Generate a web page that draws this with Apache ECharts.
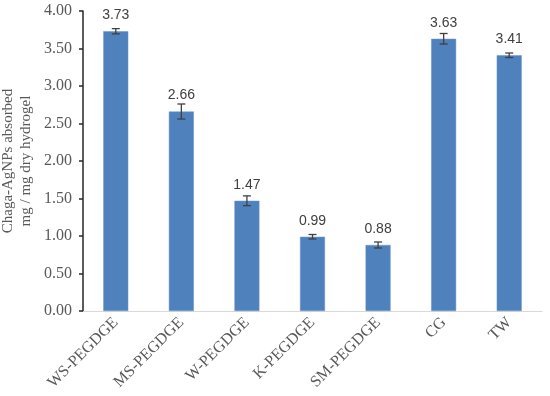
<!DOCTYPE html>
<html><head><meta charset="utf-8">
<script src="https://cdn.jsdelivr.net/npm/echarts@6/dist/echarts.min.js"></script>
<style>html,body{margin:0;padding:0;background:#fff}#c{width:550px;height:396px}</style>
</head><body><div id="c"></div>
<script>
var categories = ['WS-PEGDGE','MS-PEGDGE','W-PEGDGE','K-PEGDGE','SM-PEGDGE','CG','TW'];
var values = [3.73, 2.66, 1.47, 0.99, 0.88, 3.63, 3.41];
var errors = [0.035, 0.10, 0.065, 0.03, 0.04, 0.07, 0.03];
var yTicks = [0, 0.5, 1, 1.5, 2, 2.5, 3, 3.5, 4];

var chart = echarts.init(document.getElementById('c'));
var errData = values.map(function(v,i){ return [i, v - errors[i], v + errors[i]]; });
chart.setOption({
  animation: false,
  grid: {left: 83, right: 8, top: 11, bottom: 85, containLabel: false, outerBoundsMode: 'none'},
  xAxis: {
    type: 'category', data: categories,
    axisLine: {lineStyle: {color: '#d9d9d9', width: 1}},
    axisTick: {show: false},
    axisLabel: {rotate: 45, interval: 0, fontFamily: 'Liberation Serif', fontSize: 16, color: '#595959', margin: 9}
  },
  yAxis: {
    type: 'value', min: yTicks[0], max: yTicks[yTicks.length-1], interval: 0.5,
    name: 'Chaga-AgNPs absorbed\nmg / mg dry hydrogel',
    nameLocation: 'middle', nameGap: 48, nameMoveOverlap: false,
    nameTextStyle: {fontFamily: 'Liberation Serif', fontSize: 15, color: '#595959', lineHeight: 18},
    axisLine: {show: true, lineStyle: {color: '#262626', width: 1.5}},
    axisTick: {show: true, length: 4, lineStyle: {color: '#262626', width: 1.5}},
    splitLine: {show: false},
    axisLabel: {fontFamily: 'Liberation Serif', fontSize: 16, color: '#595959', margin: 11,
      formatter: function(v){ return v.toFixed(2); }}
  },
  series: [{
    type: 'bar', data: values, barWidth: 25,
    itemStyle: {color: '#4f81bd', borderColor: '#6c96c9', borderWidth: 0.5},
    label: {show: true, position: 'top', distance: 9, fontFamily: 'Liberation Sans', fontSize: 14, color: '#404040',
      formatter: function(p){ return p.value.toFixed(2); }},
    z: 2
  }, {
    type: 'custom', data: errData, z: 3,
    renderItem: function(params, api){
      var x = api.value(0);
      var lo = api.coord([x, api.value(1)]);
      var hi = api.coord([x, api.value(2)]);
      var hw = 4;
      var st = {stroke: '#404040', lineWidth: 1.3};
      return {type: 'group', children: [
        {type: 'line', shape: {x1: lo[0], y1: lo[1], x2: hi[0], y2: hi[1]}, style: st},
        {type: 'line', shape: {x1: lo[0]-hw, y1: lo[1], x2: lo[0]+hw, y2: lo[1]}, style: st},
        {type: 'line', shape: {x1: hi[0]-hw, y1: hi[1], x2: hi[0]+hw, y2: hi[1]}, style: st}
      ]};
    }
  }]
});
</script></body></html>
